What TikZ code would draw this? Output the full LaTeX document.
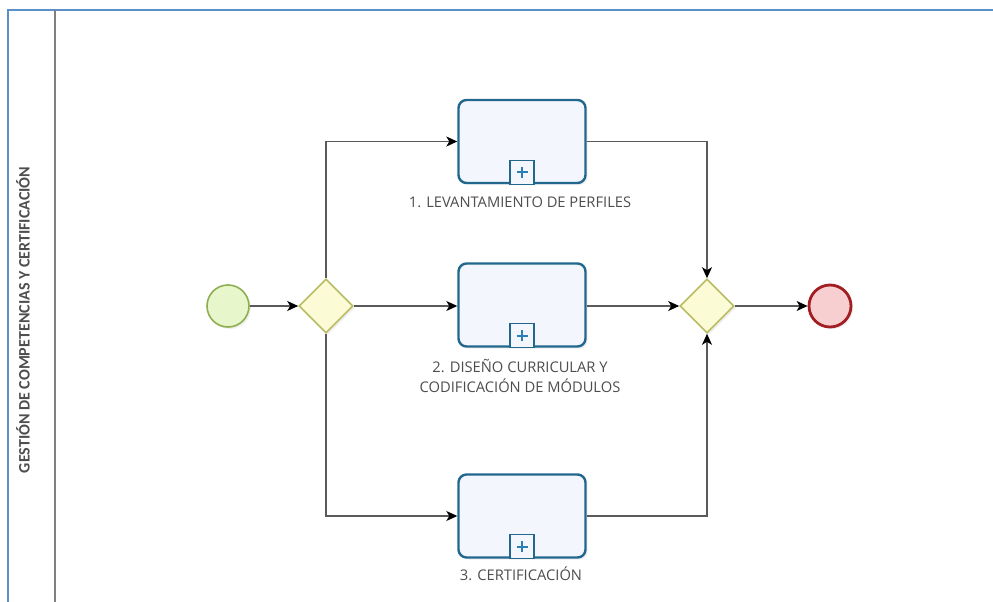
\documentclass[tikz,border=0pt]{standalone}
\usepackage{fontspec}
\setmainfont{Open Sans}
\newfontfamily\lanefont{Carlito}
\usetikzlibrary{shapes.geometric,arrows.meta,shadows}

\definecolor{poolblue}{HTML}{5B8FC8}
\definecolor{lanegray}{HTML}{808080}
\definecolor{taskline}{HTML}{22688E}
\definecolor{taskfill}{HTML}{F3F6FC}
\definecolor{plusblue}{HTML}{2A7FB5}
\definecolor{startline}{HTML}{8DAF50}
\definecolor{startfill}{HTML}{E8F6CC}
\definecolor{gateline}{HTML}{B9BC62}
\definecolor{gatefill}{HTML}{FBFBD6}
\definecolor{endline}{HTML}{A21E22}
\definecolor{endfill}{HTML}{F7CFD0}
\definecolor{flowgray}{HTML}{5A5A5A}
\definecolor{labelgray}{HTML}{4E4E4E}

\tikzset{
  softshadow/.style={drop shadow={opacity=0.12,shadow xshift=2pt,shadow yshift=-2pt}},
  taskbox/.style={draw=taskline,fill=taskfill,line width=2.4pt,rounded corners=8pt,
    minimum width=127pt,minimum height=83pt,inner sep=0pt,softshadow},
  gateway/.style={diamond,draw=gateline,fill=gatefill,line width=1.6pt,
    minimum width=54pt,minimum height=54pt,inner sep=0pt,aspect=1,softshadow},
  startevent/.style={circle,draw=startline,fill=startfill,line width=1.6pt,
    minimum size=42pt,inner sep=0pt,softshadow},
  endevent/.style={circle,draw=endline,fill=endfill,line width=2.8pt,
    minimum size=42pt,inner sep=0pt,softshadow},
  flow/.style={draw=flowgray,line width=1.3pt,
    -{Stealth[length=11pt,width=10pt,inset=3pt,fill=black,color=black]}},
  tasklabel/.style={text=labelgray,font=\fontsize{14.7}{20}\selectfont,align=center,inner sep=0pt},
  marker/.style={draw=taskline,fill=taskfill,line width=1.4pt},
  plussign/.style={draw=plusblue,line width=2.4pt}
}

% collapsed sub-process marker sitting on the bottom edge of a task
\newcommand{\submarker}[1]{%
  \draw[marker] ([xshift=-12pt]#1.south) rectangle ([xshift=12pt,yshift=24pt]#1.south);
  \draw[plussign] ([yshift=12pt,xshift=-5.5pt]#1.south) -- ([yshift=12pt,xshift=5.5pt]#1.south);
  \draw[plussign] ([yshift=6.5pt]#1.south) -- ([yshift=17.5pt]#1.south);
}

\begin{document}
\begin{tikzpicture}[x=1pt,y=-1pt]
  \useasboundingbox[fill=white] (0,0) rectangle (993,602);

  % pool border and lane divider
  \draw[poolblue,line width=1.6pt] (993,10) -- (8,10) -- (8,602);
  \draw[lanegray,line width=1.4pt] (55,10) -- (55,602);
  \node[rotate=90,font=\lanefont\bfseries\fontsize{16}{18}\selectfont,text=labelgray,inner sep=0pt]
    (lanename) at (23,320) {GESTIÓN DE COMPETENCIAS Y CERTIFICACIÓN};

  % events and gateways
  \node[startevent] (start) at (228,306) {};
  \node[gateway] (split) at (326,306) {};
  \node[gateway] (join) at (707,306) {};
  \node[endevent] (finish) at (830,306) {};

  % sub-processes
  \node[taskbox] (perfiles) at (522,141.5) {};
  \node[taskbox] (diseno) at (522,305) {};
  \node[taskbox] (certif) at (522,516) {};
  \submarker{perfiles}
  \submarker{diseno}
  \submarker{certif}

  \node[tasklabel] (lbl1) at (520,202) {1. LEVANTAMIENTO DE PERFILES};
  \node[tasklabel] (lbl2) at (520,376) {2. DISEÑO CURRICULAR Y\\CODIFICACIÓN DE MÓDULOS};
  \node[tasklabel] (lbl3) at (521,574) {3. CERTIFICACIÓN};

  % sequence flows
  \draw[flow] (start) -- (split);
  \draw[flow] (split.north) |- (perfiles.west);
  \draw[flow] (split) -- (split -| diseno.west);
  \draw[flow] (split.south) |- (certif.west);
  \draw[flow] (perfiles.east) -| (join.north);
  \draw[flow] (diseno.east |- join) -- (join);
  \draw[flow] (certif.east) -| (join.south);
  \draw[flow] (join) -- (finish);
\end{tikzpicture}
\end{document}
